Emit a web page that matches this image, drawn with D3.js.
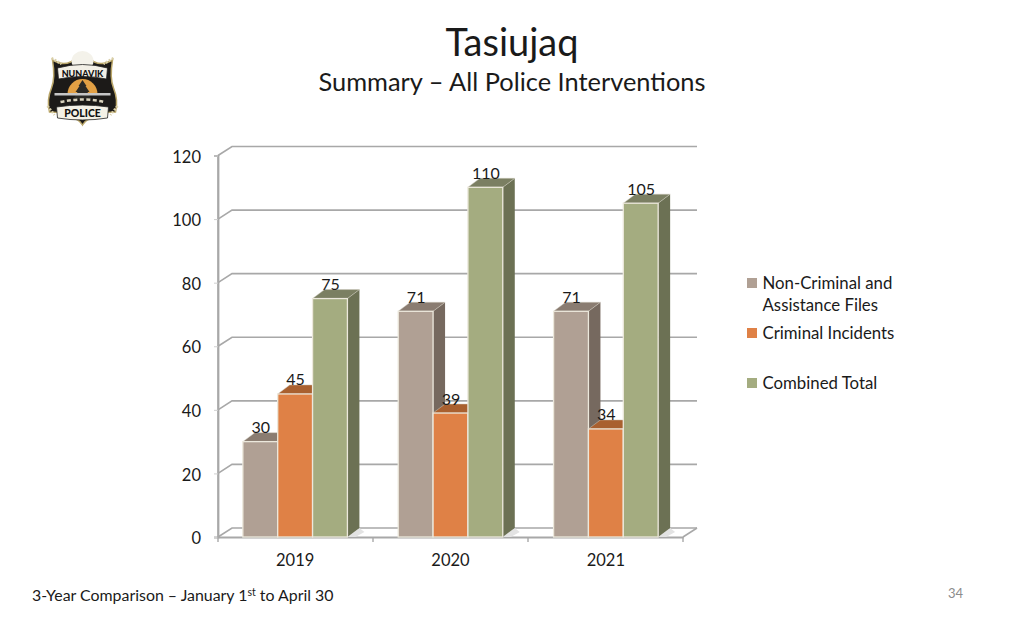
<!DOCTYPE html>
<html><head><meta charset="utf-8">
<script src="https://cdnjs.cloudflare.com/ajax/libs/d3/7.8.5/d3.min.js"></script>
<style>html,body{margin:0;padding:0;background:#fff}svg{display:block}text{font-family:Lato,"Open Sans",sans-serif;fill:#1a1a1a}</style>
</head><body><svg id="c" width="1024" height="622"></svg>
<script>
const years = ["2019","2020","2021"];
const nonCriminal = [30,71,71];
const criminal = [45,39,34];
const combined = [75,110,105];
const yTicks = [0,20,40,60,80,100,120];
const seriesNames = ["Non-Criminal and|Assistance Files","Criminal Incidents","Combined Total"];
const seriesValues = [nonCriminal,criminal,combined];
const faceColors = ["#b0a094","#df8146","#a4ac80"];
const sideColors = ["#76695f","#8e5229","#6c7154"];
const topColors = ["#8a7c71","#a9602f","#7b7f62"];

const svg = d3.select("#c");
const x0 = d3.scaleBand().domain(years).range([218,683]).paddingInner(0.327).paddingOuter(0.16);
const x1 = d3.scaleBand().domain([0,1,2]).range([0,x0.bandwidth()]);
const y = d3.scaleLinear().domain([0,120]).range([537,155.5]);
const dx = 14, dy = -9, barDx = 12, barDy = -9;
const gridColor = "#a8a8a8";

// walls
const wall = svg.append("g").attr("fill","none").attr("stroke",gridColor).attr("stroke-width",1.6);
yTicks.forEach(t=>{
  wall.append("path").attr("d",d3.line()([[218,y(t)],[218+dx,y(t)+dy],[683+dx,y(t)+dy]]));
});
wall.append("line").attr("x1",218).attr("x2",218).attr("y1",y(0)).attr("y2",y(120));
wall.append("line").attr("x1",683).attr("x2",683+dx).attr("y1",y(0)).attr("y2",y(0)+dy);

// axes
const yAxis = svg.append("g").attr("transform","translate(218,0)")
  .call(d3.axisLeft(y).tickValues(yTicks).tickSize(4).tickPadding(13));
const xAxis = svg.append("g").attr("transform","translate(0,537)")
  .call(d3.axisBottom(x0).tickSize(0).tickPadding(15));
xAxis.append("g").selectAll("line").data([218,373,528,683]).join("line")
  .attr("x1",d=>d).attr("x2",d=>d).attr("y1",0).attr("y2",5).attr("stroke",gridColor).attr("stroke-width",1.4);
[yAxis,xAxis].forEach(a=>{
  a.selectAll("path.domain").attr("stroke",gridColor).attr("stroke-width",1.8);
  a.selectAll(".tick line").attr("stroke","#cfcfcf");
  a.selectAll("text").style("font-size","16.5px").style("font-family","Lato,sans-serif").attr("fill","#1a1a1a");
});
yAxis.selectAll("text").attr("dy","0.4em");
xAxis.selectAll("text").attr("dy","0.85em");

// bars
years.forEach((yr,i)=>{
  const g = svg.append("g");
  const gx = x0(yr);
  seriesValues.forEach((vals,s)=>{
    if(s!==2) return;
    const r = gx+x1(s)+x1.bandwidth();
    g.append("path").attr("fill","#e3e3e3")
      .attr("d",d3.line()([[r,y(0)],[r+barDx,y(0)+barDy],[r+barDx+5,y(0)-5],[r+8,y(0)]]));
  });
  seriesValues.forEach((vals,s)=>{
    const l = gx+x1(s), w = x1.bandwidth(), t = y(vals[i]), b = y(0);
    g.append("path").attr("fill",sideColors[s])
      .attr("d",d3.line()([[l+w,t],[l+w+barDx,t+barDy],[l+w+barDx,b+barDy],[l+w,b]]));
    g.append("path").attr("fill",topColors[s]).attr("stroke","#cfcabd").attr("stroke-width",0.5)
      .attr("d",d3.line()([[l,t],[l+barDx,t+barDy],[l+w+barDx,t+barDy],[l+w,t]]));
    g.append("rect").attr("x",l).attr("y",t).attr("width",w).attr("height",b-t)
      .attr("fill",faceColors[s]).attr("stroke","#ece8dc").attr("stroke-width",1.3);
  });
});
// value labels
years.forEach((yr,i)=>{
  seriesValues.forEach((vals,s)=>{
    svg.append("text").attr("x",x0(yr)+x1(s)+x1.bandwidth()/2+0.5).attr("y",y(vals[i])-8.5)
      .attr("text-anchor","middle").attr("font-size",16).text(vals[i]);
  });
});

// legend
const legendY = [283,333,383];
seriesNames.forEach((n,i)=>{
  svg.append("rect").attr("x",747).attr("y",legendY[i]-5).attr("width",10).attr("height",10).attr("fill",faceColors[i]);
  n.split("|").forEach((p,j)=>{
    svg.append("text").attr("x",762.5).attr("y",legendY[i]+5.5+j*22).attr("font-size",16.8).text(p);
  });
});

// titles
svg.append("text").attr("x",512).attr("y",56).attr("text-anchor","middle").attr("font-size",38).text("Tasiujaq");
svg.append("text").attr("x",512).attr("y",91).attr("text-anchor","middle").attr("font-size",25.4).text("Summary – All Police Interventions");

// footer
const foot = svg.append("text").attr("x",32).attr("y",601).attr("font-size",15.9);
foot.append("tspan").text("3-Year Comparison – January 1");
foot.append("tspan").attr("font-size",10.5).attr("dy",-5).text("st");
foot.append("tspan").attr("dy",5).text(" to April 30");
svg.append("text").attr("x",955.5).attr("y",598).attr("text-anchor","middle").attr("font-size",13).style("fill","#8c8c8c").text("34");

// badge emblem
const logo = svg.append("g").attr("transform","translate(82.5,88)");
logo.append("path").attr("fill","#1c1a18").attr("stroke","#b9a568").attr("stroke-width",1.5)
  .attr("d","M-30,-28 Q-20,-22 -12,-26 Q0,-36 12,-26 Q20,-22 30,-28 Q27,-10 31,0 Q36,12 33,24 Q18,24 12,30 Q4,30 0,37 Q-4,30 -12,30 Q-18,24 -33,24 Q-36,12 -31,0 Q-27,-10 -30,-28 Z");
logo.append("path").attr("fill","none").attr("stroke","#d9cfa8").attr("stroke-width",2.5).attr("stroke-dasharray","2 1.5")
  .attr("d","M-31,-30 L-21,-24 M31,-30 L21,-24 M-35,18 L-28,27 M35,18 L28,27");
logo.append("ellipse").attr("cx",0).attr("cy",-27).attr("rx",11).attr("ry",10).attr("fill","#f4f2ea");
logo.append("path").attr("d","M-25,-20 Q0,-27 25,-20 L24,-9 Q0,-14 -24,-9 Z").attr("fill","#f2efe6").attr("stroke","#222").attr("stroke-width",0.8);
logo.append("text").attr("x",0).attr("y",-11.5).attr("text-anchor","middle").attr("font-size",9).attr("font-weight",900).style("fill","#111").text("NUNAVIK");
logo.append("path").attr("d","M-15,6 A15,15 0 0 1 15,6 Z").attr("fill","#e2a044");
logo.append("path").attr("d","M0,-8 L4,-2 L3,-2 L7,4 L5,4 L9,11 L-9,11 L-5,4 L-7,4 L-3,-2 L-4,-2 Z").attr("fill","#2b2a26");
logo.append("rect").attr("x",-28).attr("y",5).attr("width",56).attr("height",2.5).attr("fill","#c6c6c6");
logo.append("path").attr("d","M-22,14 Q0,9 22,14").attr("fill","none").attr("stroke","#d8d2bd").attr("stroke-width",2.5).attr("stroke-dasharray","4 2.5");
logo.append("path").attr("d","M-26,19 Q0,15 26,19 L25,30 Q0,34 -25,30 Z").attr("fill","#f4f1e6").attr("stroke","#222").attr("stroke-width",0.8);
logo.append("text").attr("x",0).attr("y",29).attr("text-anchor","middle").attr("font-size",10.5).attr("font-weight",900).style("fill","#111").text("POLICE");
</script></body></html>
